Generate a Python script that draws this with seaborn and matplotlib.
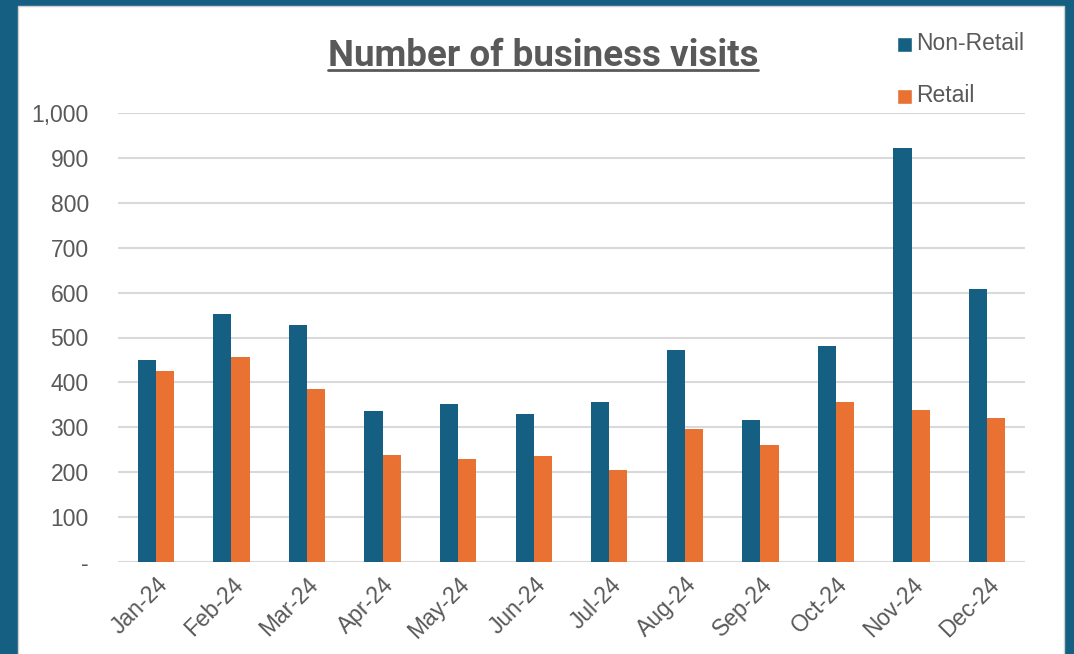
import pandas as pd
import matplotlib.pyplot as plt
import seaborn as sns
from matplotlib.patches import Rectangle
from matplotlib.ticker import FuncFormatter

# Данные
months = ['Jan-24', 'Feb-24', 'Mar-24', 'Apr-24', 'May-24', 'Jun-24',
          'Jul-24', 'Aug-24', 'Sep-24', 'Oct-24', 'Nov-24', 'Dec-24']
non_retail = [450, 552, 528, 336, 352, 330, 356, 472, 316, 481, 922, 608]
retail = [425, 456, 385, 238, 229, 236, 205, 296, 261, 356, 339, 321]

df = pd.DataFrame({
    'month': months * 2,
    'visits': non_retail + retail,
    'type': ['Non-Retail'] * len(months) + ['Retail'] * len(months),
})

blue = '#156082'
orange = '#E97132'
grey_text = '#595959'

sns.set_theme(style='white')
plt.rcParams['font.family'] = ['Liberation Sans', 'DejaVu Sans']

W, H = 1074, 654
fig = plt.figure(figsize=(W / 100, H / 100), dpi=100, facecolor=blue)
# белая панель внутри синей рамки
fig.patches.append(Rectangle((18 / W, -0.01), (1064 - 18) / W, 1.01 - 6 / H,
                             transform=fig.transFigure, facecolor='white',
                             edgecolor='#d0d0d0', linewidth=1, zorder=-10))

ax = fig.add_axes([118 / W, 1 - 562 / H, (1025 - 118) / W, (562 - 113) / H])
ax.set_facecolor('none')

sns.barplot(data=df, x='month', y='visits', hue='type', ax=ax,
            palette={'Non-Retail': blue, 'Retail': orange},
            width=0.48, gap=0, saturation=1, linewidth=0, legend=False)

ax.set_xlim(-0.5, 11.5)
ax.set_ylim(0, 1000)
ax.set_yticks(range(0, 1001, 100))
ax.yaxis.set_major_formatter(FuncFormatter(lambda v, p: '-' if v == 0 else f'{int(v):,}'))
ax.grid(axis='y', color='#d9d9d9', linewidth=1.5)
ax.set_axisbelow(True)
for s in ax.spines.values():
    s.set_visible(False)
ax.tick_params(axis='both', length=0, labelsize=16.5, colors=grey_text)
ax.tick_params(axis='y', pad=21)
ax.tick_params(axis='x', pad=8)
plt.setp(ax.get_xticklabels(), rotation=45, ha='right', rotation_mode='anchor')
ax.set_xlabel('')
ax.set_ylabel('')

title = fig.text(543 / W, 1 - 66 / H, 'Number of business visits', ha='center', va='baseline',
                 fontsize=26.5, fontweight='bold', color=grey_text,
                 family=['Roboto', 'DejaVu Sans'])
# подчёркивание заголовка по ширине текста
fig.canvas.draw()
bb = title.get_window_extent()
fig.add_artist(plt.Line2D([bb.x0 / W, bb.x1 / W], [1 - 70 / H, 1 - 70 / H],
                          color=grey_text, linewidth=2, transform=fig.transFigure))

# легенда
for label, color, y in [('Non-Retail', blue, 44), ('Retail', orange, 96)]:
    fig.patches.append(Rectangle((897 / W, 1 - (y + 8) / H), 15 / W, 15 / H,
                                 transform=fig.transFigure, facecolor=color))
    fig.text(916 / W, 1 - y / H, label, ha='left', va='center',
             fontsize=16.5, color=grey_text)

fig.savefig('out.png', dpi=100, facecolor=blue)
